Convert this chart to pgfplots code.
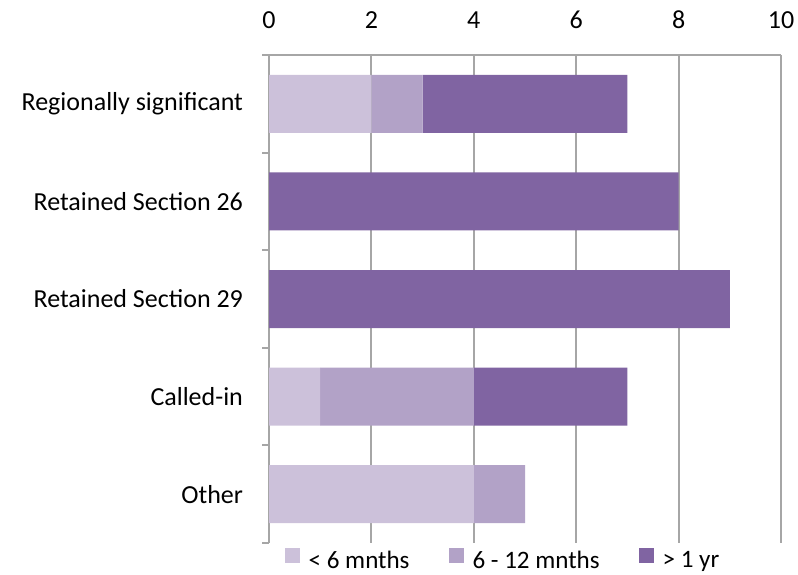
\documentclass[border=0pt]{standalone}
\usepackage{pgfplots}
\pgfplotsset{compat=1.18}
\usepackage{fontspec}
\setmainfont{Carlito}
\definecolor{cA}{HTML}{CCC1DA}
\definecolor{cB}{HTML}{B2A2C7}
\definecolor{cC}{HTML}{8064A2}
\definecolor{gridc}{HTML}{A6A6A6}
\begin{document}
\begin{tikzpicture}
\path[use as bounding box] (0pt,0pt) rectangle (598.5pt,430.5pt);
\begin{axis}[
  at={(201.75pt,23.25pt)}, anchor=south west,
  scale only axis,
  width=384pt, height=366pt,
  xbar stacked, bar width=43.5pt,
  xmin=0, xmax=10,
  xtick={0,2,4,6,8,10},
  axis x line*=top,
  axis y line*=left,
  ymin=-0.5, ymax=4.5,
  y dir=reverse,
  ytick={0,1,2,3,4},
  yticklabels={Regionally significant,Retained Section 26,Retained Section 29,Called-in,Other},
  extra y ticks={-0.5,0.5,1.5,2.5,3.5,4.5},
  extra y tick labels={},
  extra y tick style={major tick length=5pt, tick style={gridc, line width=1.5pt}, tick align=outside},
  major tick length=0pt,
  xtick style={draw=none},
  x axis line style={gridc, line width=1.5pt, -},
  y axis line style={gridc, line width=1.5pt, -},
  xmajorgrids,
  grid style={gridc, line width=1.5pt},
  extra x ticks={0,2,4,6,8,10},
  extra x tick labels={},
  extra x tick style={major tick length=6pt, tick align=outside, tick style={gridc, line width=1.5pt}, grid=none},
  /pgf/number format/assume math mode=true,
  tick label style={font=\fontsize{19.5}{22}\selectfont},
  yticklabel style={xshift=-16pt},
  xticklabel style={yshift=16.5pt},
  legend style={draw=none, at={(0.458,-0.036)}, anchor=center, legend columns=-1,
    font=\fontsize{18.8}{21}\selectfont,
    /tikz/every odd column/.append style={column sep=4.5pt},
    /tikz/every even column/.append style={column sep=27.5pt}},
  legend image code/.code={\fill[#1] (0pt,-2pt) rectangle (11.25pt,9.25pt);},
  clip=false,
]
\addplot[fill=cA, draw=none] coordinates {(2,0) (0,1) (0,2) (1,3) (4,4)};
\addplot[fill=cB, draw=none] coordinates {(1,0) (0,1) (0,2) (3,3) (1,4)};
\addplot[fill=cC, draw=none] coordinates {(4,0) (8,1) (9,2) (3,3) (0,4)};
\legend{{< 6 mnths},{6 - 12 mnths},{> 1 yr}}
\end{axis}
\end{tikzpicture}
\end{document}
